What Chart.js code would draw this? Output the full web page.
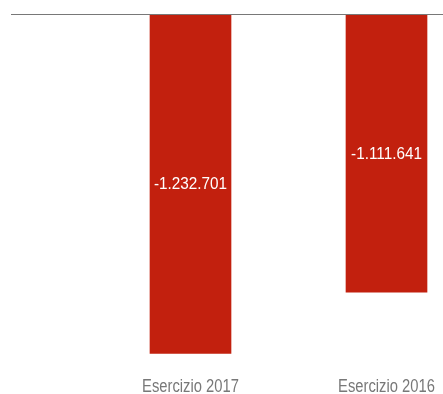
<!DOCTYPE html>
<html>
<head>
<meta charset="utf-8">
<script src="https://cdn.jsdelivr.net/npm/chart.js@4"></script>
<style>
  html, body { margin: 0; padding: 0; background: #fff; overflow: hidden; }
  #wrap { position: relative; width: 500px; height: 394px; }
</style>
</head>
<body>
<div id="wrap"><canvas id="myChart"></canvas></div>
<script>
const categories = ['Esercizio 2017', 'Esercizio 2016'];
const values = [-1232701, -1111641];
// visible range of the value axis (the chart does not start at zero)
const axisMin = -1240000;
const axisMax = -560000;

const barRed = '#c2200e';
const textGrey = '#787878';
const fontName = "'Liberation Sans', Arial, sans-serif";

// italian style number: -1.232.701
function formatNumber(v) {
  const s = Math.abs(v).toString().replace(/\B(?=(\d{3})+(?!\d))/g, '.');
  return (v < 0 ? '-' : '') + s;
}

// condensed text: no narrow font installed, so squeeze it horizontally
function narrowText(ctx, text, x, y, squeeze) {
  ctx.save();
  ctx.translate(x, y);
  ctx.scale(squeeze, 1);
  ctx.fillText(text, 0, 0);
  ctx.restore();
}

// value in the middle of the visible part of each bar + category names under the bars
const barLabels = {
  id: 'barLabels',
  afterDatasetsDraw(chart) {
    const ctx = chart.ctx;
    const area = chart.chartArea;
    const xScale = chart.scales.x;
    const meta = chart.getDatasetMeta(0);
    ctx.save();
    ctx.textAlign = 'center';

    ctx.fillStyle = '#fff';
    ctx.font = '17px ' + fontName;
    ctx.textBaseline = 'middle';
    meta.data.forEach(function (bar, i) {
      const top = Math.max(Math.min(bar.base, bar.y), area.top);
      const bottom = Math.min(Math.max(bar.base, bar.y), area.bottom);
      narrowText(ctx, formatNumber(values[i]), bar.x, (top + bottom) / 2 + 1, 0.9);
    });

    ctx.fillStyle = textGrey;
    ctx.font = '18px ' + fontName;
    ctx.textBaseline = 'alphabetic';
    categories.forEach(function (label, i) {
      narrowText(ctx, label, xScale.getPixelForTick(i), area.bottom + 35, 0.82);
    });
    ctx.restore();
  }
};

const config = {
  type: 'bar',
  data: {
    labels: categories,
    datasets: [
      {
        data: values,
        backgroundColor: barRed,
        borderWidth: 0,
        barThickness: 81,
      },
    ],
  },
  options: {
    responsive: true,
    maintainAspectRatio: false,
    animation: false,
    layout: {
      padding: { left: 11, top: 14, right: 15.5, bottom: 37 },
    },
    plugins: {
      legend: { display: false },
      tooltip: { enabled: false },
    },
    scales: {
      x: {
        display: false,
      },
      y: {
        min: axisMin,
        max: axisMax,
        border: { display: false },
        ticks: { display: false },
        grid: {
          z: 1,
          lineWidth: 1,
          tickLength: 81.5,
          color: function (c) {
            return c.tick && c.tick.value === axisMax ? textGrey : 'transparent';
          },
        },
      },
    },
  },
  plugins: [barLabels],
};

var ctx = document.getElementById('myChart');
var myChart = new Chart(ctx, config);
</script>
</body>
</html>
